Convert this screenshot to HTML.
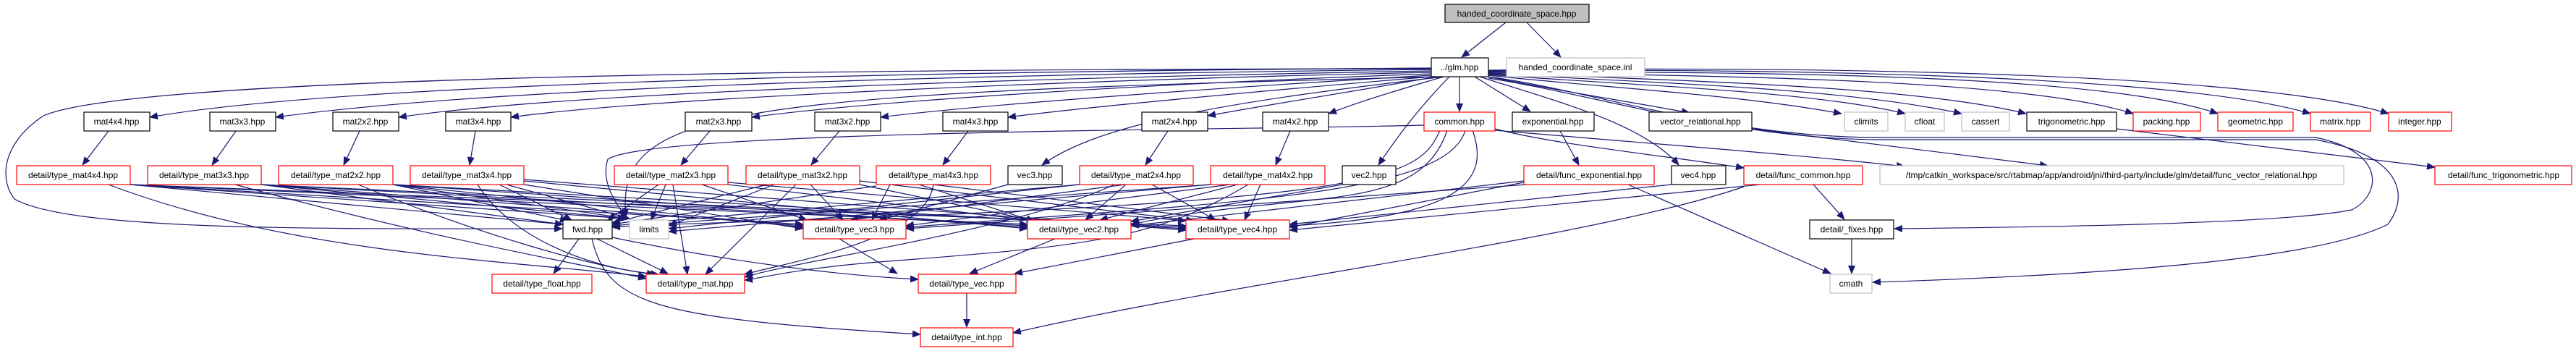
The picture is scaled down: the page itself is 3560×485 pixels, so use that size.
<!DOCTYPE html>
<html><head><meta charset="utf-8"><style>
html,body{margin:0;padding:0;background:#fff;width:3560px;height:485px;overflow:hidden}
svg text{font-family:"Liberation Sans",sans-serif;font-size:12px;fill:#000}
</style></head><body>
<svg width="3560" height="485" viewBox="0 0 3560 485" xmlns="http://www.w3.org/2000/svg">
<defs><marker id="a" markerUnits="userSpaceOnUse" markerWidth="12" markerHeight="10" refX="11" refY="5" orient="auto"><path d="M0,0 L12,5 L0,10 z" fill="#191970"/></marker></defs>
<g fill="none" stroke="#191970" stroke-width="1.2" marker-end="url(#a)">
<path d="M2081,31 L2020,79"/>
<path d="M2110,31 L2157,79"/>
<!-- glm to top row left -->
<path d="M1978,94 C1400,98 500,110 207,162"/>
<path d="M1978,96 C1400,102 700,118 381,162"/>
<path d="M1978,98 C1500,106 800,125 551,162"/>
<path d="M1978,100 C1500,110 900,135 706,162"/>
<path d="M1978,102 C1600,115 1200,140 1039,162"/>
<path d="M1978,104 C1700,120 1350,145 1217,162"/>
<path d="M1978,106 C1750,125 1500,148 1393,162"/>
<path d="M1985,106 C1850,130 1750,145 1669,160"/>
<path d="M1995,106 C1930,125 1880,140 1836,157"/>
<path d="M2017,106 L2017,154"/>
<path d="M2038,106 L2115,154"/>
<path d="M2057,106 C2150,125 2250,140 2335,156"/>
<path d="M2057,104 C2200,120 2400,130 2545,157"/>
<path d="M2057,103 C2250,118 2500,125 2633,157"/>
<path d="M2057,102 C2300,115 2550,122 2711,157"/>
<path d="M2057,101 C2350,112 2650,120 2800,157"/>
<path d="M2057,100 C2400,105 2800,110 2948,157"/>
<path d="M2057,99 C2400,100 2900,100 3065,157"/>
<path d="M2057,98 C2400,95 3000,100 3193,157"/>
<path d="M2057,97 C2400,92 3100,95 3301,157"/>
<!-- glm long curves -->
<path d="M1978,95 C700,95 150,120 60,160 C0,200 0,250 20,275 C100,320 450,316 777,316"/>
<path d="M1990,106 C1000,130 850,150 865,300"/>
<path d="M1995,106 C1700,140 1520,170 1440,228"/>
<path d="M2003,106 C1960,150 1930,190 1905,228"/>
<path d="M2045,106 C2150,140 2270,170 2320,228"/>
<path d="M2057,106 C2200,125 2380,190 2600,190 L3200,190 C3300,210 3290,270 3250,290 C3150,310 2800,314 2618,316"/>
<path d="M2057,108 C2200,130 2400,193 2600,193 L3200,193 C3320,215 3330,270 3300,310 C3200,360 2900,380 2588,390"/>
<!-- top row to row3 -->
<path d="M150,181 L114,228"/>
<path d="M326,181 L293,228"/>
<path d="M497,181 L475,228"/>
<path d="M657,181 L649,228"/>
<path d="M981,181 L941,228"/>
<path d="M1160,181 L1121,228"/>
<path d="M1338,181 L1303,228"/>
<path d="M1614,181 L1583,228"/>
<path d="M1783,181 L1763,228"/>
<path d="M2156,181 L2182,228"/>
<path d="M2066,180 C2300,200 2500,215 2632,230"/>
<path d="M2421,178 L2830,229"/>
<path d="M2925,178 L3365,231"/>
<path d="M2066,178 C2150,200 2300,215 2410,232"/>
<path d="M1968,173 C1700,180 900,180 840,220 C830,250 850,280 865,300"/>
<!-- type_mat rows to row4/5 -->
<g>
<path d="M180,255 L778,310"/><path d="M180,255 L865,302"/><path d="M180,255 L1110,310"/><path d="M180,255 L1420,310"/><path d="M180,255 L1639,312"/><path d="M150,255 C400,350 700,360 893,382"/>
<path d="M361,255 L778,310"/><path d="M361,255 L865,302"/><path d="M361,255 L1110,312"/><path d="M361,255 L1420,312"/><path d="M361,255 L1639,314"/><path d="M325,255 C600,330 780,360 893,385"/>
<path d="M543,255 L785,305"/><path d="M543,255 L868,302"/><path d="M543,255 L1110,314"/><path d="M543,255 L1420,314"/><path d="M543,255 L1639,316"/><path d="M495,255 C650,320 820,370 905,379"/>
<path d="M690,255 L790,304"/><path d="M700,255 L870,302"/><path d="M724,255 L1110,316"/><path d="M724,250 L1420,316"/><path d="M724,248 L1639,318"/><path d="M660,255 C700,320 800,370 910,379"/>
<path d="M910,255 L840,304"/><path d="M920,255 L900,304"/><path d="M970,255 L1115,304"/><path d="M1006,255 L1430,305"/><path d="M1006,252 L1639,305"/><path d="M930,255 L950,379"/>
<path d="M1060,255 L846,308"/><path d="M1070,255 L924,312"/><path d="M1120,255 L1165,304"/><path d="M1188,255 L1430,305"/><path d="M1188,250 L1650,305"/><path d="M1100,255 L975,379"/>
<path d="M1211,257 L846,310"/><path d="M1230,255 L1205,304"/><path d="M1270,255 L1430,306"/><path d="M1290,255 L1700,305"/><path d="M1290,255 C1280,330 1100,360 1029,379"/>
<path d="M1492,255 L846,312"/><path d="M1555,255 L1175,304"/><path d="M1556,255 L1500,304"/><path d="M1592,255 L1680,304"/><path d="M1540,255 C1400,320 1100,360 1029,383"/><path d="M1492,255 L924,316"/>
<path d="M1673,255 L846,314"/><path d="M1710,255 L1520,304"/><path d="M1742,255 L1720,304"/><path d="M1725,255 C1600,330 1500,340 1240,360 C1100,370 1050,385 1029,387"/><path d="M1673,255 L924,320"/><path d="M1700,255 L1252,312"/>
<path d="M1393,255 L1215,304"/><path d="M1855,255 L1563,306"/><path d="M2310,255 L1782,310"/>
<path d="M2000,180 C1960,300 1800,260 1563,310"/><path d="M2025,180 C2000,270 1700,280 1252,314"/><path d="M2035,180 C2060,250 2020,300 1782,312"/><path d="M1990,180 C1960,250 1900,280 924,310"/>
<path d="M2106,250 L1563,312"/><path d="M2106,252 L1782,314"/><path d="M2110,255 L1252,316"/><path d="M2250,255 L2530,378"/>
<path d="M2433,255 L1782,318"/><path d="M2506,255 L2549,303"/><path d="M2410,258 C2200,330 1700,390 1400,460"/>
</g>
<path d="M800,330 L765,378"/><path d="M825,330 L923,378"/><path d="M846,328 C1000,360 1150,380 1269,386"/><path d="M818,330 C840,420 900,440 1272,462"/>
<path d="M1160,330 L1240,378"/><path d="M1458,330 L1340,378"/><path d="M1650,330 L1402,378"/>
<path d="M1336,405 L1336,452"/>
<path d="M2559,330 L2559,378"/>
</g>
<g stroke-width="1.2">
<rect x="1997" y="6" width="199" height="25" fill="#bfbfbf" stroke="#000"/>
<rect x="1978" y="80" width="79" height="26" fill="#fff" stroke="#000"/>
<rect x="2082" y="80" width="191" height="26" fill="#fff" stroke="#bfbfbf"/>
<g fill="#fff" stroke="#000">
<rect x="116" y="155" width="91" height="26"/><rect x="290" y="155" width="91" height="26"/><rect x="460" y="155" width="91" height="26"/><rect x="616" y="155" width="90" height="26"/><rect x="947" y="155" width="92" height="26"/><rect x="1126" y="155" width="91" height="26"/><rect x="1303" y="155" width="90" height="26"/><rect x="1578" y="155" width="91" height="26"/><rect x="1745" y="155" width="91" height="26"/><rect x="2090" y="155" width="113" height="26"/><rect x="2279" y="155" width="142" height="26"/><rect x="2801" y="155" width="124" height="26"/>
<rect x="1393" y="229" width="75" height="26"/><rect x="1855" y="229" width="74" height="26"/><rect x="2310" y="229" width="75" height="26"/>
<rect x="778" y="304" width="68" height="26"/><rect x="2501" y="304" width="116" height="26"/>
</g>
<g fill="#fff" stroke="#ff0000">
<rect x="1968" y="155" width="98" height="26"/><rect x="2948" y="155" width="93" height="26"/><rect x="3065" y="155" width="104" height="26"/><rect x="3193" y="155" width="83" height="26"/><rect x="3301" y="155" width="87" height="26"/>
<rect x="23" y="229" width="157" height="26"/><rect x="204" y="229" width="157" height="26"/><rect x="385" y="229" width="158" height="26"/><rect x="567" y="229" width="157" height="26"/><rect x="849" y="229" width="157" height="26"/><rect x="1031" y="229" width="157" height="26"/><rect x="1211" y="229" width="158" height="26"/><rect x="1492" y="229" width="157" height="26"/><rect x="1673" y="229" width="158" height="26"/><rect x="2106" y="229" width="180" height="26"/><rect x="2410" y="229" width="164" height="26"/><rect x="3365" y="229" width="189" height="26"/>
<rect x="1110" y="304" width="142" height="26"/><rect x="1420" y="304" width="143" height="26"/><rect x="1639" y="304" width="143" height="26"/>
<rect x="680" y="379" width="138" height="26"/><rect x="893" y="379" width="136" height="26"/><rect x="1269" y="379" width="135" height="26"/>
<rect x="1272" y="453" width="128" height="26"/>
</g>
<g fill="#fff" stroke="#bfbfbf">
<rect x="2549" y="155" width="60" height="26"/><rect x="2633" y="155" width="54" height="26"/><rect x="2711" y="155" width="66" height="26"/>
<rect x="2598" y="229" width="641" height="26"/><rect x="870" y="304" width="54" height="26"/><rect x="2529" y="379" width="58" height="26"/>
</g>
</g>
<g text-anchor="middle">
<text x="2096" y="23">handed_coordinate_space.hpp</text>
<text x="2017" y="97">../glm.hpp</text>
<text x="2177" y="97">handed_coordinate_space.inl</text>
<text x="161" y="172">mat4x4.hpp</text><text x="335" y="172">mat3x3.hpp</text><text x="505" y="172">mat2x2.hpp</text><text x="661" y="172">mat3x4.hpp</text><text x="993" y="172">mat2x3.hpp</text><text x="1171" y="172">mat3x2.hpp</text><text x="1348" y="172">mat4x3.hpp</text><text x="1623" y="172">mat2x4.hpp</text><text x="1790" y="172">mat4x2.hpp</text><text x="2017" y="172">common.hpp</text><text x="2146" y="172">exponential.hpp</text><text x="2350" y="172">vector_relational.hpp</text><text x="2579" y="172">climits</text><text x="2660" y="172">cfloat</text><text x="2744" y="172">cassert</text><text x="2863" y="172">trigonometric.hpp</text><text x="2994" y="172">packing.hpp</text><text x="3117" y="172">geometric.hpp</text><text x="3234" y="172">matrix.hpp</text><text x="3344" y="172">integer.hpp</text>
<text x="101" y="246">detail/type_mat4x4.hpp</text><text x="282" y="246">detail/type_mat3x3.hpp</text><text x="464" y="246">detail/type_mat2x2.hpp</text><text x="645" y="246">detail/type_mat3x4.hpp</text><text x="927" y="246">detail/type_mat2x3.hpp</text><text x="1109" y="246">detail/type_mat3x2.hpp</text><text x="1290" y="246">detail/type_mat4x3.hpp</text><text x="1430" y="246">vec3.hpp</text><text x="1570" y="246">detail/type_mat2x4.hpp</text><text x="1752" y="246">detail/type_mat4x2.hpp</text><text x="1892" y="246">vec2.hpp</text><text x="2196" y="246">detail/func_exponential.hpp</text><text x="2347" y="246">vec4.hpp</text><text x="2492" y="246">detail/func_common.hpp</text><text x="2918" y="246">/tmp/catkin_workspace/src/rtabmap/app/android/jni/third-party/include/glm/detail/func_vector_relational.hpp</text><text x="3460" y="246">detail/func_trigonometric.hpp</text>
<text x="812" y="321">fwd.hpp</text><text x="897" y="321">limits</text><text x="1181" y="321">detail/type_vec3.hpp</text><text x="1491" y="321">detail/type_vec2.hpp</text><text x="1710" y="321">detail/type_vec4.hpp</text><text x="2559" y="321">detail/_fixes.hpp</text>
<text x="749" y="396">detail/type_float.hpp</text><text x="961" y="396">detail/type_mat.hpp</text><text x="1336" y="396">detail/type_vec.hpp</text><text x="2558" y="396">cmath</text>
<text x="1336" y="470">detail/type_int.hpp</text>
</g>
</svg>
</body></html>
